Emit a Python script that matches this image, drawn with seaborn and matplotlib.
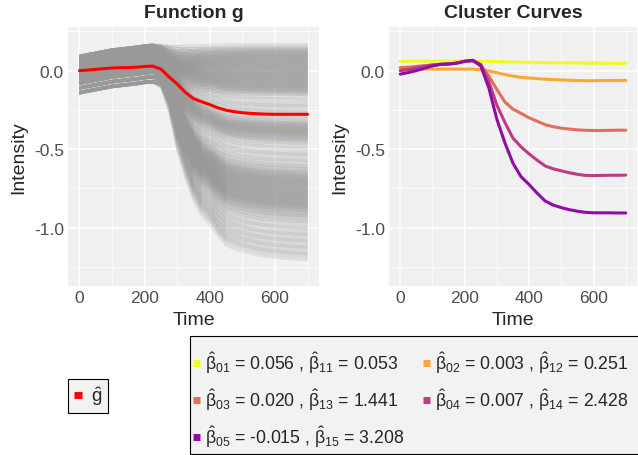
import numpy as np
import pandas as pd
import matplotlib
matplotlib.use("Agg")
import matplotlib.pyplot as plt
import seaborn as sns
from matplotlib.lines import Line2D
from matplotlib.patches import Rectangle
from matplotlib.ticker import MultipleLocator

# ---------------- data ----------------
time = list(range(0, 701, 25))

g_hat = [0.000, 0.004, 0.008, 0.013, 0.017, 0.019, 0.020, 0.022, 0.027, 0.029,
         0.010, -0.040, -0.085, -0.138, -0.178, -0.198, -0.216, -0.237, -0.252,
         -0.261, -0.268, -0.272, -0.275, -0.277, -0.278, -0.278, -0.278, -0.278, -0.278]

cluster_1 = [0.060, 0.060, 0.061, 0.061, 0.061, 0.061, 0.061, 0.061, 0.061, 0.061,
             0.060, 0.059, 0.058, 0.056, 0.055, 0.054, 0.053, 0.052, 0.051, 0.050,
             0.050, 0.049, 0.049, 0.048, 0.048, 0.048, 0.047, 0.047, 0.047]
cluster_2 = [0.003, 0.006, 0.009, 0.010, 0.010, 0.010, 0.010, 0.010, 0.010, 0.010,
             0.006, -0.002, -0.013, -0.025, -0.035, -0.042, -0.047, -0.051, -0.054,
             -0.057, -0.059, -0.061, -0.063, -0.064, -0.064, -0.063, -0.063, -0.062, -0.062]
cluster_3 = [0.020, 0.022, 0.027, 0.032, 0.037, 0.040, 0.043, 0.048, 0.058, 0.062,
             0.035, -0.035, -0.120, -0.200, -0.245, -0.272, -0.300, -0.322, -0.344,
             -0.357, -0.366, -0.372, -0.377, -0.380, -0.381, -0.381, -0.380, -0.379, -0.379]
cluster_4 = [0.000, 0.008, 0.018, 0.028, 0.036, 0.040, 0.043, 0.048, 0.060, 0.065,
             0.040, -0.070, -0.220, -0.330, -0.430, -0.485, -0.530, -0.570, -0.607,
             -0.625, -0.638, -0.650, -0.660, -0.667, -0.668, -0.667, -0.666, -0.666, -0.665]
cluster_5 = [-0.022, -0.012, 0.000, 0.015, 0.030, 0.040, 0.042, 0.048, 0.060, 0.066,
             0.030, -0.110, -0.310, -0.460, -0.590, -0.675, -0.725, -0.780, -0.830,
             -0.856, -0.872, -0.885, -0.895, -0.902, -0.905, -0.905, -0.905, -0.906, -0.906]

# grey individual curves: early level, final level and shared shape profiles
grey_start = [0.09, 0.07, 0.05, 0.035, 0.02, 0.005, -0.01, -0.025, -0.04, -0.06,
              -0.08, -0.11, -0.14]
grey_end_shift = [0.024, 0.019, 0.014, 0.010, 0.006, 0.002, -0.002, -0.006, -0.010,
                  -0.014, -0.019, -0.024, -0.030]
grey_start_shift = [-0.010, 0.004, -0.006, 0.010, -0.002, 0.007, 0.000]
grey_end = [0.15, 0.13, 0.12, 0.11, 0.10, 0.09, 0.08, 0.07, 0.06, 0.05, 0.04,
            0.03, 0.02, 0.01, 0.00, -0.01, -0.02, -0.03, -0.04, -0.05, -0.06, -0.07,
            -0.08, -0.09, -0.10, -0.11, -0.12, -0.13, -0.15,
            -0.20, -0.24, -0.28,
            -0.32, -0.34, -0.35, -0.36, -0.37, -0.38, -0.39, -0.40, -0.41,
            -0.42, -0.44, -0.46,
            -0.51, -0.55, -0.59,
            -0.62, -0.64, -0.66, -0.67, -0.68, -0.69, -0.70, -0.71, -0.72,
            -0.73, -0.74, -0.75, -0.76, -0.77, -0.78, -0.79, -0.80, -0.81, -0.82,
            -0.83, -0.84, -0.85, -0.86, -0.87, -0.88, -0.90, -0.92, -0.94,
            -0.98, -1.02, -1.06, -1.10, -1.14, -1.18]
rise_profile = [0.000, 0.010, 0.020, 0.030, 0.040, 0.046, 0.052, 0.058, 0.066, 0.070,
                0.070, 0.070, 0.070, 0.070, 0.070, 0.070, 0.070, 0.070, 0.070, 0.070,
                0.070, 0.070, 0.070, 0.070, 0.070, 0.070, 0.070, 0.070, 0.070]
drop_profile = [0.000, 0.000, 0.000, 0.000, 0.000, 0.000, 0.000, 0.000, 0.000, 0.000,
                0.032, 0.180, 0.400, 0.550, 0.675, 0.760, 0.810, 0.870, 0.920, 0.940,
                0.955, 0.966, 0.976, 0.983, 0.988, 0.992, 0.995, 0.998, 1.000]

cluster_names = ["1", "2", "3", "4", "5"]
cluster_colors = ["#F0F921", "#FCA636", "#E66C5C", "#C03A83", "#8F0DA4"]
legend_labels = [
    r"$\hat{\beta}_{01}$ = 0.056 , $\hat{\beta}_{11}$ = 0.053",
    r"$\hat{\beta}_{02}$ = 0.003 , $\hat{\beta}_{12}$ = 0.251",
    r"$\hat{\beta}_{03}$ = 0.020 , $\hat{\beta}_{13}$ = 1.441",
    r"$\hat{\beta}_{04}$ = 0.007 , $\hat{\beta}_{14}$ = 2.428",
    r"$\hat{\beta}_{05}$ = -0.015 , $\hat{\beta}_{15}$ = 3.208",
]

# ---------------- tables ----------------
rows = []
cid = 0
for j, s in enumerate(grey_start):
    for i, e in enumerate(grey_end):
        s2 = s + grey_start_shift[i % len(grey_start_shift)]
        e2 = e + grey_end_shift[j]
        for t, r, d in zip(time, rise_profile, drop_profile):
            rows.append((cid, t, s2 + r + (e2 - s2 - rise_profile[-1]) * d))
        cid += 1
grey_df = pd.DataFrame(rows, columns=["curve", "time", "value"])
g_df = pd.DataFrame({"time": time, "value": g_hat})
cl_df = pd.concat([pd.DataFrame({"time": time, "value": v, "cluster": n})
                   for n, v in zip(cluster_names,
                                   [cluster_1, cluster_2, cluster_3, cluster_4, cluster_5])])

# ---------------- style ----------------
sns.set_theme(style="darkgrid")
plt.rcParams["font.family"] = ["Liberation Sans", "DejaVu Sans"]
plt.rcParams["mathtext.fontset"] = "custom"
plt.rcParams["mathtext.rm"] = "Liberation Sans"
plt.rcParams["mathtext.it"] = "Liberation Sans"
plt.rcParams["mathtext.bf"] = "Liberation Sans:bold"

fig = plt.figure(figsize=(6.38, 4.56), dpi=100)
W, H = 638, 456
ax1 = fig.add_axes([68 / W, 1 - 287 / H, 251 / W, 259 / H])
ax2 = fig.add_axes([389 / W, 1 - 287 / H, 248 / W, 259 / H])

sns.lineplot(data=grey_df, x="time", y="value", units="curve", estimator=None,
             color="#999999", alpha=0.28, lw=0.45, ax=ax1, legend=False)
sns.lineplot(data=g_df, x="time", y="value", color="#FF0000", lw=2.2, ax=ax1)
sns.lineplot(data=cl_df, x="time", y="value", hue="cluster",
             palette=dict(zip(cluster_names, cluster_colors)),
             lw=2.2, ax=ax2, legend=False)

for ax, title in [(ax1, "Function g"), (ax2, "Cluster Curves")]:
    ax.set_facecolor("#F0F0F0")
    ax.set_xlim(-35, 735)
    ax.set_ylim(-1.371, 0.278)
    ax.xaxis.set_major_locator(MultipleLocator(200))
    ax.xaxis.set_minor_locator(MultipleLocator(100))
    ax.yaxis.set_major_locator(MultipleLocator(0.5))
    ax.yaxis.set_minor_locator(MultipleLocator(0.25))
    ax.grid(which="major", color="white", lw=1.1)
    ax.grid(which="minor", color="white", lw=0.5)
    ax.set_axisbelow(True)
    ax.tick_params(which="both", length=0, labelsize=12.5, labelcolor="#4D4D4D", pad=3)
    ax.set_yticks([-1.0, -0.5, 0.0])
    ax.set_yticklabels(["-1.0", "-0.5", "0.0"])
    ax.set_title(title, fontsize=14, fontweight="bold", pad=7)
    ax.set_xlabel("Time", fontsize=14, labelpad=4)
    ax.set_ylabel("Intensity", fontsize=14, labelpad=5)
    for sp in ax.spines.values():
        sp.set_visible(False)

# legends
h_g = [Line2D([], [], color="#FF0000", lw=5, solid_capstyle="butt")]
leg1 = fig.legend(h_g, [r"$\hat{g}$"], loc="center", bbox_to_anchor=(88 / W, 1 - 397 / H),
                  fontsize=13.5, frameon=True, fancybox=False, edgecolor="black",
                  facecolor="#F2F2F2", framealpha=1, handlelength=0.45,
                  handletextpad=0.45, borderpad=0.3)
leg1.get_frame().set_linewidth(0.8)

fig.add_artist(Rectangle((190 / W, 1 - 455 / H), 470 / W, 118 / H,
                         transform=fig.transFigure, facecolor="#F2F2F2",
                         edgecolor="black", lw=0.8, zorder=1))
order = [0, 2, 4, 1, 3]
h_c = [Line2D([], [], color=cluster_colors[i], lw=5, solid_capstyle="butt") for i in order]
l_c = [legend_labels[i] for i in order]
leg2 = fig.legend(h_c, l_c, loc="upper left", bbox_to_anchor=(193 / W, 1 - 350 / H),
                  ncol=2, fontsize=12.7, frameon=False, handlelength=0.4,
                  handletextpad=0.3, borderpad=0, labelspacing=0.66,
                  columnspacing=1.05, borderaxespad=0)
leg2.set_zorder(2)

fig.savefig("out.png", dpi=100)
